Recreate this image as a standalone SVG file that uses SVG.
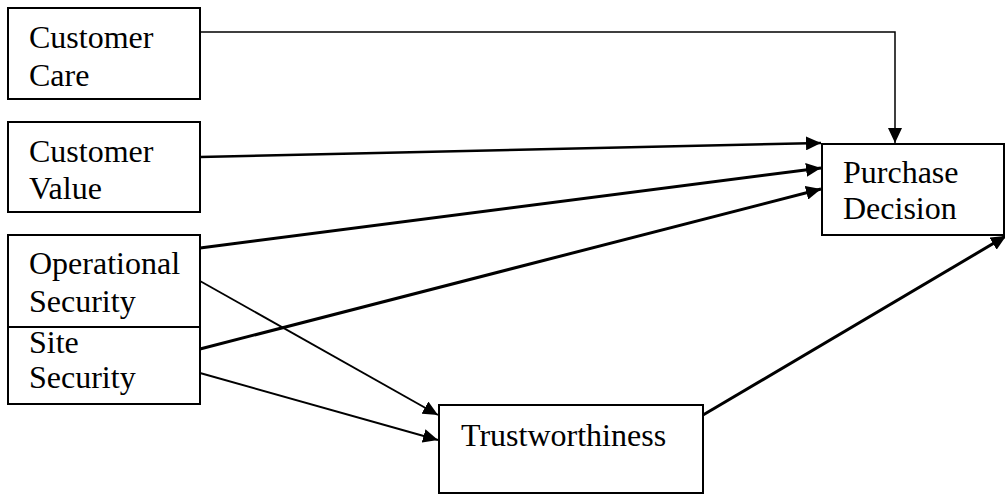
<svg xmlns="http://www.w3.org/2000/svg" width="1005" height="495" viewBox="0 0 1005 495">
<style>
.box{fill:#fff;stroke:#000;stroke-width:2}
.t{font-family:"Liberation Serif","Times New Roman",serif;font-size:32px;fill:#000}
.c{fill:none;stroke:#000}
</style>
<defs>
<marker id="ah" markerUnits="userSpaceOnUse" markerWidth="16" markerHeight="14" refX="15" refY="7" orient="auto">
<path d="M0,0 L15,7 L0,14 z" fill="#000"/>
</marker>
</defs>
<rect width="1005" height="495" fill="#fff"/>
<g id="connectors">
<path class="c" d="M200,32 H895 V143" stroke-width="1.5" marker-end="url(#ah)"/>
<path class="c" d="M200,157 L821,143" stroke-width="2.5" marker-end="url(#ah)"/>
<path class="c" d="M200,248 L821,168" stroke-width="3" marker-end="url(#ah)"/>
<path class="c" d="M200,349 L821,189" stroke-width="3" marker-end="url(#ah)"/>
<path class="c" d="M200,281 L438,415" stroke-width="1.8" marker-end="url(#ah)"/>
<path class="c" d="M200,373 L438,440" stroke-width="2" marker-end="url(#ah)"/>
<path class="c" d="M703,415 L1006,236" stroke-width="3" marker-end="url(#ah)"/>
</g>
<g id="customer-care">
<rect class="box" x="8" y="8" width="192" height="91"/>
<text class="t" x="29" y="48">Customer</text>
<text class="t" x="29" y="86">Care</text>
</g>
<g id="customer-value">
<rect class="box" x="8" y="122" width="192" height="90"/>
<text class="t" x="29" y="162">Customer</text>
<text class="t" x="29" y="199">Value</text>
</g>
<g id="operational-security">
<rect class="box" x="8" y="235" width="192" height="92"/>
<text class="t" x="29" y="274">Operational</text>
<text class="t" x="29" y="312">Security</text>
</g>
<g id="site-security">
<rect class="box" x="8" y="327" width="192" height="77"/>
<text class="t" x="29" y="353">Site</text>
<text class="t" x="29" y="388">Security</text>
</g>
<g id="purchase-decision">
<rect class="box" x="822" y="144" width="182" height="91"/>
<text class="t" x="843" y="183">Purchase</text>
<text class="t" x="843" y="219">Decision</text>
</g>
<g id="trustworthiness">
<rect class="box" x="439" y="405" width="264" height="88"/>
<text class="t" x="461" y="446">Trustworthiness</text>
</g>
</svg>
